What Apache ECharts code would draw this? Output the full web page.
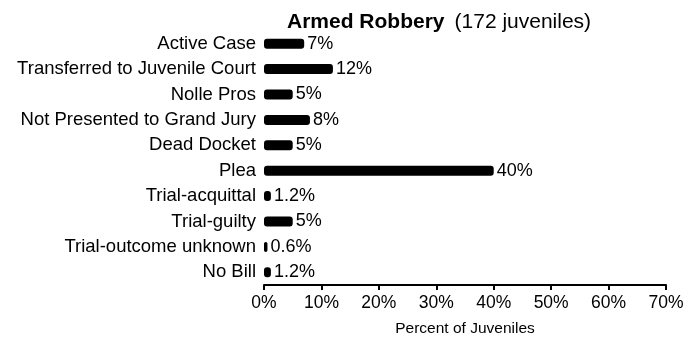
<!DOCTYPE html>
<html>
<head>
<meta charset="utf-8">
<script src="https://cdn.jsdelivr.net/npm/echarts@6/dist/echarts.min.js"></script>
<style>
  html, body { margin: 0; padding: 0; background: #fff; }
  #chart { width: 699px; height: 343px; }
</style>
</head>
<body>
<div id="chart"></div>
<script>
// Case outcomes, listed top to bottom
const categories = [
  'Active Case',
  'Transferred to Juvenile Court',
  'Nolle Pros',
  'Not Presented to Grand Jury',
  'Dead Docket',
  'Plea',
  'Trial-acquittal',
  'Trial-guilty',
  'Trial-outcome unknown',
  'No Bill'
];
// Percent of juveniles per outcome
const percents = [7, 12, 5, 8, 5, 40, 1.2, 5, 0.6, 1.2];
const xTicks = [0, 10, 20, 30, 40, 50, 60, 70];

const font = 'Arial, "Liberation Sans", sans-serif';
const chart = echarts.init(document.getElementById('chart'));

chart.setOption({
  animation: false,
  backgroundColor: '#fff',
  title: {
    text: '{b|Armed Robbery}  {n|(172 juveniles)}',
    left: 282,
    top: 7,
    textStyle: {
      fontWeight: 'normal',
      rich: {
        b: { fontFamily: font, fontSize: 21, fontWeight: 'bold', color: '#000' },
        n: { fontFamily: font, fontSize: 21, fontWeight: 'normal', color: '#000' }
      }
    }
  },
  grid: { left: 264, right: 33, top: 31, bottom: 58, containLabel: false },
  xAxis: {
    type: 'value',
    min: xTicks[0],
    max: xTicks[xTicks.length - 1],
    interval: 10,
    name: 'Percent of Juveniles',
    nameLocation: 'middle',
    nameGap: 36,
    nameTextStyle: { fontFamily: font, fontSize: 15.5, color: '#000', verticalAlign: 'top' },
    axisLine: { show: true, lineStyle: { color: '#000', width: 2 } },
    axisTick: { show: true, length: 5, lineStyle: { color: '#000', width: 2 } },
    axisLabel: { fontFamily: font, fontSize: 17.5, color: '#000', margin: 9, formatter: '{value}%' },
    splitLine: { show: false }
  },
  yAxis: {
    type: 'category',
    inverse: true,
    data: categories,
    axisLine: { show: false },
    axisTick: { show: false },
    axisLabel: { fontFamily: font, fontSize: 18.5, color: '#000', margin: 8 }
  },
  series: [{
    type: 'bar',
    data: percents,
    barWidth: 10,
    itemStyle: { color: '#000', borderRadius: 3 },
    label: {
      show: true,
      position: 'right',
      distance: 3,
      fontFamily: font,
      fontSize: 18,
      color: '#000',
      formatter: p => p.value + '%'
    }
  }]
});
</script>
</body>
</html>
